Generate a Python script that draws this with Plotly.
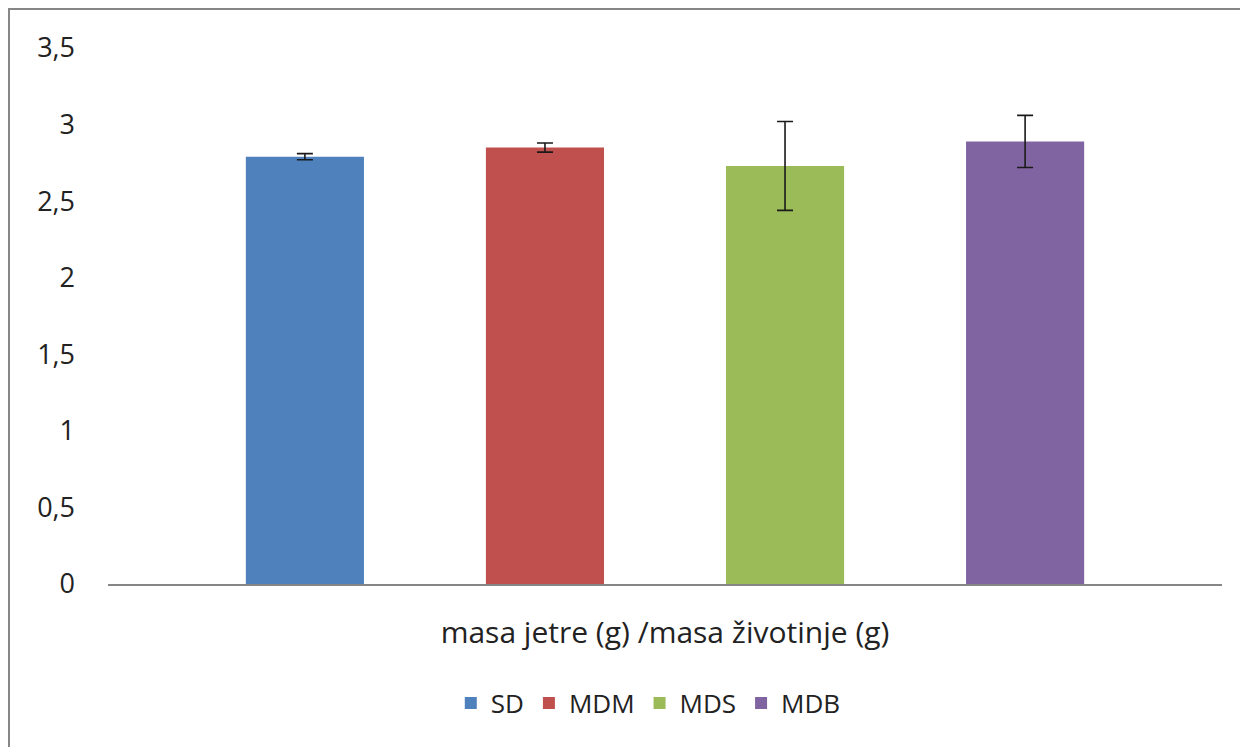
import plotly.graph_objects as go

category = ["masa jetre (g) /masa životinje (g)"]
groups = ["SD", "MDM", "MDS", "MDB"]
means = [2.79, 2.85, 2.73, 2.89]
errors = [0.02, 0.03, 0.29, 0.17]
colors = ["#4F81BD", "#C0504D", "#9BBB59", "#8064A2"]
ytick_vals = [0, 0.5, 1, 1.5, 2, 2.5, 3, 3.5]
ytick_text = ["0", "0,5", "1", "1,5", "2", "2,5", "3", "3,5"]

FONT = "Open Sans"
TXT = "#222222"

fig = go.Figure()
for g, m, e, c in zip(groups, means, errors, colors):
    fig.add_trace(go.Bar(
        name=g, x=category, y=[m], marker=dict(color=c, line=dict(width=0)),
        error_y=dict(type="data", array=[e], visible=True, color="#1a1a1a",
                     thickness=1.6, width=8),
    ))

fig.update_layout(
    width=1240, height=739,
    margin=dict(l=100, r=26, t=40, b=163),
    paper_bgcolor="white", plot_bgcolor="white",
    barmode="group", bargap=0.138, bargroupgap=0.508,
    font=dict(family=FONT, size=26, color=TXT),
    showlegend=True,
    legend=dict(orientation="h", x=0.485, xanchor="center", y=-0.222, yanchor="middle",
                font=dict(size=26, color=TXT), itemwidth=30, traceorder="normal"),
    xaxis=dict(showline=True, linecolor="#868686", linewidth=1.5, ticks="",
               showgrid=False, ticklabelstandoff=21, tickfont=dict(size=30)),
    yaxis=dict(range=[0, 3.5], tickvals=ytick_vals, ticktext=ytick_text,
               showgrid=False, zeroline=False, showline=False, ticks="",
               ticklabelstandoff=32, tickfont=dict(size=27)),
    shapes=[dict(type="rect", xref="paper", yref="paper",
                 x0=-0.0889, x1=1.3, y0=-0.6, y1=1.0728,
                 line=dict(color="#868686", width=2), fillcolor="rgba(0,0,0,0)",
                 layer="below")],
)

fig.write_html("out.html")
